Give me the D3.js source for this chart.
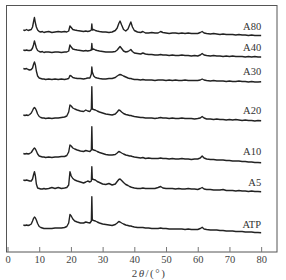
<!DOCTYPE html>
<html><head><meta charset="utf-8">
<script src="https://cdn.jsdelivr.net/npm/d3@7"></script>
<style>body{margin:0;background:#fff}svg{display:block}</style>
</head><body>
<script>
const twoTheta = [5,5.5,6,6.5,7,7.5,7.9,8.2,8.5,8.8,
9.1,9.5,10,10.5,11,11.5,12,13,14,15,
16,17,18,18.7,19.3,19.7,20.1,20.6,21.2,22,
23,24,24.7,25.3,26,26.45,26.6,26.75,27.2,27.7,
28.3,29,30,31,32,33,34,34.6,35.1,35.5,
36,36.6,37.3,38,38.5,38.9,39.4,40,41,42,
42.7,43.5,44.5,45.5,46.5,47.5,48.3,49,50,51,
52,53,54,55,56,57,58,59,60,60.8,
61.4,62,62.8,64,65,66,67,68,69,70,
71,72,73,74,75,76,77,78,79,80];

const A80 = [222,221.5,222.5,221.5,222,222.5,225,230,234.5,229,
225,222,220.5,220,220.5,219.5,220,220.5,219.5,220,
220.5,220,220.5,220,221,226,224.5,222.5,222,221.5,
221,220.5,221,220.5,221,222,228,222,222.5,221.5,
221,220.5,220,220,219.5,220,221.5,224,228.5,231,
227,222.5,221,223,227,230,225,221.5,220,219.5,
220.5,219,219,219.5,219,219,220.5,219.5,219,218.5,
219,219,218.5,219,218.5,219,218.5,218.5,218.5,219.5,
220.5,219,218.5,218,218.5,218,217.5,218,217.5,217.5,
217.5,217,217.5,217,217,216.5,217,216.5,216.5,216.5];

const A40 = [202,201.5,202,201.5,201.5,202,204,207,211,207.5,
204,201.5,200.5,200,200.5,199.5,200,200,199.5,200,
200,199.5,200,200,201,207,205,203,202.5,202,
201.5,201,201.5,201,201.5,202,208.5,202.5,203,202,
201.5,201,200.5,200,200,200,200.5,202,204,205.5,
203.5,201,200,200.5,201.5,202.5,200.5,199,198.5,198,
199,198,197.5,197.5,197,197,197.5,197,197,196.5,
197,196.5,196.5,197,196.5,196.5,196,196.5,196,197,
198.5,197,196.5,196,196.5,196,196,195.5,196,195.5,
196,195.5,195.5,195.5,195,195.5,195,195.5,195,195];

const A30 = [183.5,183,183.5,182.5,182,182.5,184,187.5,190,187,
181,176,174,173.5,173,173,172.5,173,172.5,173,
172.5,173,172.5,173,173.5,176.5,176,174.5,174,173.5,
173.5,173,173.5,174,174,178,185,180,176,174.5,
174,173.5,173,173,173.5,173.5,174.5,176,177,177.5,
177,176,175,174,173.5,173.5,173,172.5,172.5,172,
172.5,172,172,172,171.5,172,172,172,171.5,172,
171.5,172,171.5,171.5,172,171.5,171.5,171.5,171.5,172,
173,172,171.5,171,171.5,171,171,171,170.5,171,
170.5,170.5,171,170.5,170.5,170,170.5,170,170,170.3];

const A20 = [137,136.5,137,136.5,137.5,139,141.5,143.5,144.5,143.5,
141.5,138,135.5,134.5,134,134,133.5,134,133.5,134,
134,134.5,135,136,140,147,146,144,143,142,
141,140.5,142,141,140.5,143,165.3,143,142.5,142,
141,140,139,138,137.5,137,138,140,142,141.5,
140,138.5,137.5,137,136.5,136.5,136,135.5,135,134.5,
134.5,134,134,134,133.5,134,134.5,134,134,133.5,
134,133.5,133.5,134,133.5,133.5,133.5,133,133.5,134,
135.5,134,133,133,132.5,133,132.5,132.5,132,132.5,
132,132.5,132,131.5,132,131.5,131.5,131,131.5,131.3];

const A10 = [98.5,98,98.5,98,98.5,99.5,101.5,103,104,103,
101,98,96,95.5,95,95,94.5,95,94.5,95,
95,95.5,95.5,96.5,100,107,106,104,103,102,
101,100.5,101.5,101,100.5,102,125.3,102.5,102,101.5,
100.5,99.5,98.5,97.5,97,97,97.5,99,100.5,100,
99,98,97,96.5,96,96,95.5,95,94.5,94,
94.5,93.5,94,93.5,93.5,93.5,94,93.5,93.5,93,
93.5,93,93,93.5,93,93,92.5,93,93,94,
96,94,93,92.5,92.5,92,92,92,91.5,91.5,
91,91,91,90.5,90.5,90,90,89.5,89.5,89.3];

const A5 = [72,71.5,72,71.5,71,71,73,77,80.3,76,
68,64,63.5,63,63,63.5,63,63.5,64.5,63.5,
64.5,63.5,64,64.5,67,80.3,76,73.5,72,71,
70,69,70,71,70,71,85.3,73,72.5,72,
70.5,69.5,68,67.5,68.5,67,68,70.5,72.5,73,
71.5,69.5,67.5,66.5,65.5,65,64.5,64,63.5,63.5,
64,63.5,63.5,63.5,63.5,64.5,65.5,64,63.5,63.5,
63.5,63,63.5,63,63,63.5,63,63,62.5,63.5,
64.5,63,62.5,62.5,62,62,62,62.5,61.5,61.5,
61.5,61,61.5,61,61,60.5,61,60.5,60.5,60.3];

const ATP = [27,26.5,27,26.5,27,28,31,33.5,35,34,
32,28.5,25.5,24.5,24,23.5,23.5,23.5,23.5,24,
24,24,24.5,25.5,29,37.5,36,33,31,30,
29,29,30,29.5,29,31,55.3,32,31.5,31,
30,29,28,27.5,27,26.5,27.5,29,30.5,30,
29,28,27,26.5,26,26,25.5,25,24.5,24.5,
24.5,24,24,23.5,23.5,23.5,24,23.5,23.5,23,
23,23,23,23,22.5,23,22.5,22.5,22.5,23.5,
24.7,23,22.5,22,22,22,21.5,21.5,21,21,
21,20.5,20.5,20.5,20,20,20,19.5,19.5,19.3];

const seriesNames = ["A80","A40","A30","A20","A10","A5","ATP"];
const seriesValues = [A80,A40,A30,A20,A10,A5,ATP];
const labelLevels = [222,201,177,138.5,97,66,24.3];
const xTicks = [0,10,20,30,40,50,60,70,80];

const W = 286, H = 280;
const svg = d3.select("body").append("svg").attr("width", W).attr("height", H);
const x = d3.scaleLinear().domain([0,85]).range([7.5,277]);
const y = d3.scaleLinear().domain([0,247]).range([252,5]);
const font = "'Liberation Serif','Times New Roman',serif";

// frame
svg.append("rect").attr("x",6.5).attr("y",5.5).attr("width",270.5).attr("height",246.5)
  .attr("fill","none").attr("stroke","#555").attr("stroke-width",1);

// x axis
const axis = d3.axisBottom(x).tickValues(xTicks).tickSize(-5).tickPadding(4).tickFormat(d3.format("d"));
const gx = svg.append("g").attr("transform","translate(0,252)").call(axis);
gx.select(".domain").remove();
gx.selectAll(".tick line").attr("stroke","#777");
gx.selectAll(".tick text").attr("font-family",font).attr("font-size",10.5).attr("fill","#444");

// axis title
const t = svg.append("text").attr("x",149).attr("y",277).attr("text-anchor","middle")
  .attr("font-family",font).attr("font-size",11).attr("fill","#444").attr("letter-spacing",1.5);
t.append("tspan").text("2");
t.append("tspan").attr("font-style","italic").text("θ");
t.append("tspan").text("/(°)");

// traces
const line = d3.line().x((d,i)=>x(twoTheta[i])).y(d=>y(d));
seriesValues.forEach((vals,k)=>{
  svg.append("path").datum(vals).attr("d",line).attr("fill","none")
    .attr("stroke","#222").attr("stroke-width",1.4).attr("stroke-linejoin","round");
  svg.append("text").attr("x",x(80)).attr("y",y(labelLevels[k])).attr("text-anchor","end")
    .attr("font-family",font).attr("font-size",10.5).attr("fill","#333").text(seriesNames[k]);
});
</script>
</body></html>
